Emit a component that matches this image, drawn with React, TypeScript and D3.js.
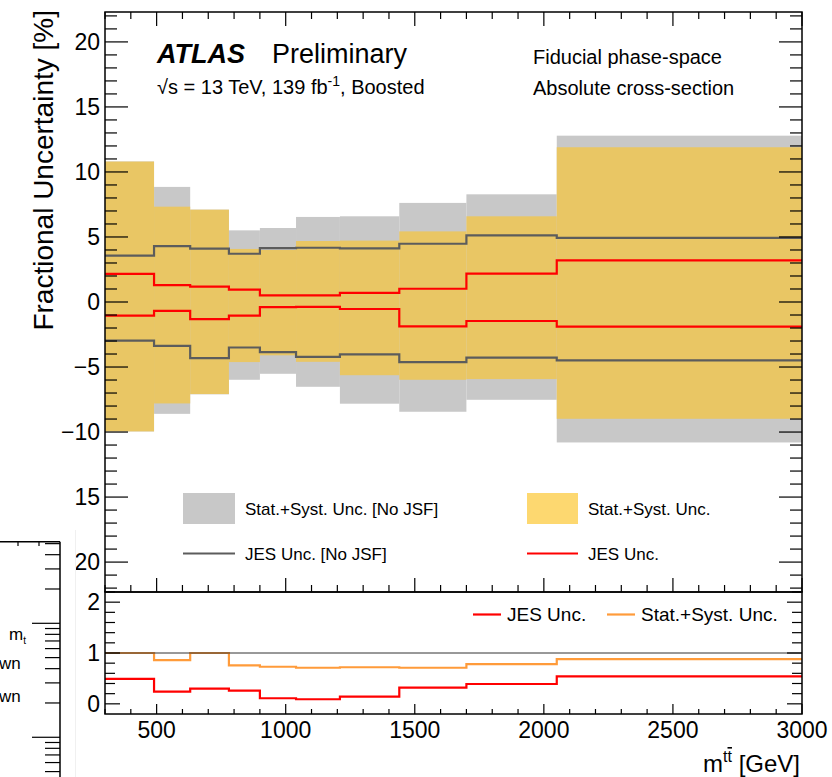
import React from 'react';
import * as d3 from 'd3';

// ==== data

const binEdges = [300, 490, 630, 780, 900, 1040, 1210, 1440, 1700, 2050, 3000];

const totalNoJsfUp = [10.8, 8.85, 7.1, 5.51, 5.69, 6.54, 6.59, 7.62, 8.28, 12.79];
const totalNoJsfDown = [-9.95, -8.6, -7.1, -5.98, -5.52, -6.52, -7.82, -8.44, -7.52, -10.8];
const totalUp = [10.8, 7.33, 7.1, 4.08, 4.0, 4.69, 4.72, 5.43, 6.59, 11.9];
const totalDown = [-9.95, -7.8, -7.08, -4.62, -4.1, -4.6, -5.63, -5.98, -5.93, -8.98];

const jesNoJsfUp = [3.57, 4.3, 4.11, 3.71, 4.15, 4.17, 4.12, 4.48, 5.13, 4.93];
const jesNoJsfDown = [-2.97, -3.37, -4.31, -3.5, -3.85, -4.22, -4.03, -4.62, -4.28, -4.49];
const jesUp = [2.16, 1.3, 1.18, 0.95, 0.51, 0.51, 0.7, 1.02, 2.18, 3.2];
const jesDown = [-1.05, -0.69, -1.31, -1.05, -0.39, -0.37, -0.54, -1.88, -1.46, -1.9];

const ratioTotal = [1.0, 0.86, 1.0, 0.755, 0.73, 0.71, 0.72, 0.71, 0.78, 0.88];
const ratioJes = [0.49, 0.24, 0.3, 0.26, 0.11, 0.09, 0.14, 0.32, 0.39, 0.54];

const topTickValues = [20, 15, 10, 5, 0, -5, -10, -15, -20];
const topTickLabels = ['20', '15', '10', '5', '0', '\u22125', '\u221210', '15', '20'];
const lowTickValues = [0, 1, 2];
const xTickValues = [500, 1000, 1500, 2000, 2500, 3000];

// ====

const FONT = '"Liberation Sans", Arial, Helvetica, sans-serif';
const W = 832;
const H = 777;
const left = 105;
const right = 802;
const top = 12;
const mid = 592;
const bottom = 714;

const GRAY = '#c8c8c8';
const YELLOW = '#e9c664';
const YELLOW_LEG = '#fdd870';
const DARK = '#5c5c5c';
const RED = '#ff0000';
const ORANGE = '#ff9b3a';

const x = d3.scaleLinear().domain([300, 3000]).range([left, right]);
const yTop = d3.scaleLinear().domain([-22.3, 22.3]).range([mid, top]);
const yLow = d3.scaleLinear().domain([-0.2, 2.2]).range([bottom, mid]);
const yFrag = d3.scaleLog().domain([0.45, 52]).range([776.8, 541.7]);

function stepPath(values: number[], y: d3.ScaleLinear<number, number>) {
    const pts: [number, number][] = values.map((v, i) => [x(binEdges[i]), y(v)]);
    pts.push([x(binEdges[values.length]), y(values[values.length - 1])]);
    return d3.line().curve(d3.curveStepAfter)(pts) || '';
}

function bandRects(up: number[], down: number[], fill: string, key: string) {
    return up.map((u, i) => (
        <rect key={`${key}-${i}`}
            x={x(binEdges[i])}
            y={yTop(u)}
            width={x(binEdges[i + 1]) - x(binEdges[i])}
            height={yTop(down[i]) - yTop(u)}
            fill={fill} />
    ));
}

function xTicks(y0: number, dir: number, major: number, minor: number, key: string) {
    const vals = d3.range(300, 3001, 100);
    return vals.map((v) => {
        const len = v % 500 === 0 ? major : minor;
        return <line key={`${key}-${v}`} x1={x(v)} x2={x(v)} y1={y0} y2={y0 + dir * len} stroke="#000" strokeWidth={1.2} />;
    });
}

function yTicks(vals: number[], y: (v: number) => number, isMajor: (v: number) => boolean, major: number, minor: number, key: string) {
    const out: JSX.Element[] = [];
    vals.forEach((v, i) => {
        const len = isMajor(v) ? major : minor;
        out.push(<line key={`${key}-l${i}`} x1={left} x2={left + len} y1={y(v)} y2={y(v)} stroke="#000" strokeWidth={1.2} />);
        out.push(<line key={`${key}-r${i}`} x1={right} x2={right - len} y1={y(v)} y2={y(v)} stroke="#000" strokeWidth={1.2} />);
    });
    return out;
}

export default function App() {
    const topMinor = d3.range(-22, 23, 1);
    const lowMinor = d3.range(0, 12).map((i) => Math.round((i * 0.2) * 10) / 10).filter((v) => v <= 2.2);
    const fragTicks = yFrag.ticks();

    return (
        <svg width={W} height={H} style={{ position: 'absolute', left: 0, top: 0, background: '#fff' }} fontFamily={FONT}>
            <rect x={0} y={0} width={W} height={H} fill="#fff" />

            {/* bands */}
            {bandRects(totalNoJsfUp, totalNoJsfDown, GRAY, 'g')}
            {bandRects(totalUp, totalDown, YELLOW, 'y')}

            {/* JES lines */}
            <path d={stepPath(jesNoJsfUp, yTop)} fill="none" stroke={DARK} strokeWidth={2.2} />
            <path d={stepPath(jesNoJsfDown, yTop)} fill="none" stroke={DARK} strokeWidth={2.2} />
            <path d={stepPath(jesUp, yTop)} fill="none" stroke={RED} strokeWidth={2.2} />
            <path d={stepPath(jesDown, yTop)} fill="none" stroke={RED} strokeWidth={2.2} />

            {/* lower panel */}
            <path d={stepPath(ratioTotal, yLow)} fill="none" stroke={ORANGE} strokeWidth={2.2} />
            <path d={stepPath(ratioJes, yLow)} fill="none" stroke={RED} strokeWidth={2.2} />
            <line x1={left} x2={right} y1={yLow(1)} y2={yLow(1)} stroke="#333" strokeWidth={1} />

            {/* frames */}
            <rect x={left} y={top} width={right - left} height={mid - top} fill="none" stroke="#000" strokeWidth={1.5} />
            <rect x={left} y={mid} width={right - left} height={bottom - mid} fill="none" stroke="#000" strokeWidth={1.5} />

            {/* ticks */}
            {xTicks(top, 1, 14, 7, 'tt')}
            {xTicks(mid, -1, 14, 7, 'tb')}
            {xTicks(bottom, -1, 10, 5, 'lb')}
            {yTicks(topMinor, (v) => yTop(v), (v) => v % 5 === 0, 23, 12, 'ty')}
            {yTicks(lowMinor, (v) => yLow(v), (v) => Number.isInteger(v), 15, 10, 'ly')}

            {/* tick labels */}
            {topTickValues.map((v, i) => (
                <text key={`tl${i}`} x={100} y={yTop(v) + 8} textAnchor="end" fontSize={23}>{topTickLabels[i]}</text>
            ))}
            {lowTickValues.map((v) => (
                <text key={`ll${v}`} x={100} y={yLow(v) + 8} textAnchor="end" fontSize={23}>{v}</text>
            ))}
            {xTickValues.map((v) => (
                <text key={`xl${v}`} x={x(v)} y={738} textAnchor="middle" fontSize={23}>{v}</text>
            ))}

            {/* axis titles */}
            <text transform="translate(53,10) rotate(-90)" textAnchor="end" fontSize={28}>Fractional Uncertainty [%]</text>
            <text x={800} y={772} textAnchor="end" fontSize={24}>
                m<tspan dy={-10} fontSize={16}>t</tspan><tspan fontSize={16} textDecoration="overline">t</tspan><tspan dy={10}> [GeV]</tspan>
            </text>

            {/* labels */}
            <text x={157} y={63} fontSize={27} fontWeight="bold" fontStyle="italic">ATLAS</text>
            <text x={272} y={63} fontSize={27}>Preliminary</text>
            <text x={157} y={94} fontSize={20}>
                √s = 13 TeV, 139 fb<tspan dy={-8} fontSize={14}>-1</tspan><tspan dy={8}>, Boosted</tspan>
            </text>
            <text x={533} y={64} fontSize={20}>Fiducial phase-space</text>
            <text x={533} y={95} fontSize={20}>Absolute cross-section</text>

            {/* legend top */}
            <rect x={183} y={493} width={52} height={31} fill={GRAY} />
            <text x={245} y={515} fontSize={17}>Stat.+Syst. Unc. [No JSF]</text>
            <rect x={527} y={493} width={51} height={31} fill={YELLOW_LEG} />
            <text x={588} y={515} fontSize={17}>Stat.+Syst. Unc.</text>
            <line x1={183} x2={235} y1={553.5} y2={553.5} stroke={DARK} strokeWidth={1.8} />
            <text x={245} y={559.5} fontSize={17}>JES Unc. [No JSF]</text>
            <line x1={527} x2={578} y1={553.5} y2={553.5} stroke={RED} strokeWidth={1.8} />
            <text x={588} y={559.5} fontSize={17}>JES Unc.</text>

            {/* legend bottom */}
            <line x1={473} x2={501} y1={614.5} y2={614.5} stroke={RED} strokeWidth={2.2} />
            <text x={507} y={621} fontSize={19}>JES Unc.</text>
            <line x1={607} x2={635} y1={614.5} y2={614.5} stroke={ORANGE} strokeWidth={2.2} />
            <text x={641} y={621} fontSize={19}>Stat.+Syst. Unc.</text>

            {/* neighbouring panel fragment on the left */}
            <line x1={75.5} x2={75.5} y1={530} y2={H} stroke="#f0f0f0" strokeWidth={1} />
            <line x1={0} x2={60} y1={541.7} y2={541.7} stroke="#000" strokeWidth={1.5} />
            <line x1={60} x2={60} y1={541.7} y2={H} stroke="#000" strokeWidth={1.5} />
            <line x1={18} x2={18} y1={541.7} y2={546} stroke="#000" strokeWidth={1.2} />
            <line x1={39} x2={39} y1={541.7} y2={546} stroke="#000" strokeWidth={1.2} />
            {fragTicks.map((v, i) => {
                const isDecade = Math.abs(Math.log10(v) - Math.round(Math.log10(v))) < 1e-6;
                return <line key={`fr${i}`} x1={isDecade ? 32 : 45} x2={60} y1={yFrag(v)} y2={yFrag(v)} stroke="#000" strokeWidth={1.2} />;
            })}
            <text x={9} y={640} fontSize={17}>m<tspan dy={4} fontSize={10}>t</tspan></text>
            <text x={-1} y={669} fontSize={17}>wn</text>
            <text x={-1} y={702} fontSize={17}>wn</text>
        </svg>
    );
}
